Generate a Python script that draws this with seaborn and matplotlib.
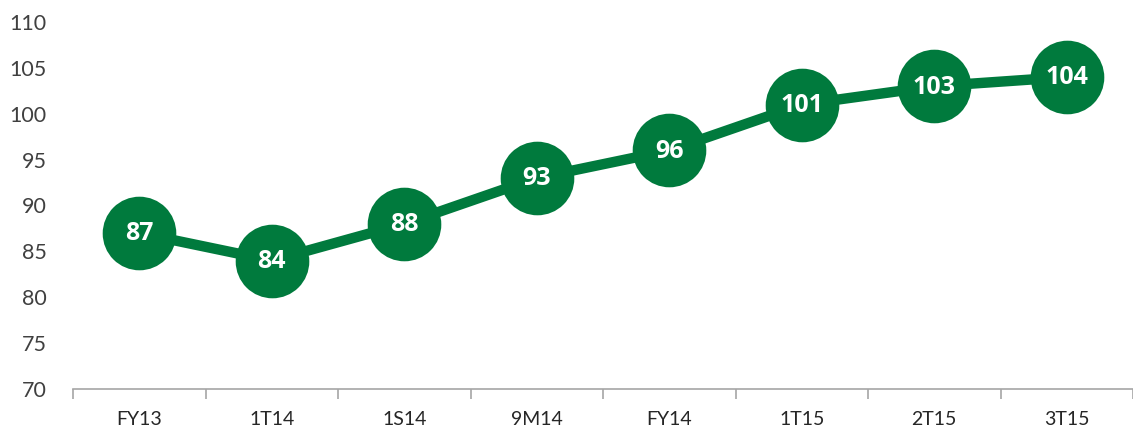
import matplotlib
matplotlib.use("Agg")
import matplotlib.pyplot as plt
import seaborn as sns
import pandas as pd
import numpy as np

categories = ["FY13", "1T14", "1S14", "9M14", "FY14", "1T15", "2T15", "3T15"]
values = [87, 84, 88, 93, 96, 101, 103, 104]
y_ticks = [70, 75, 80, 85, 90, 95, 100, 105, 110]

sns.set_style("white")
plt.rcParams['font.family'] = ['Lato', 'DejaVu Sans']

green = "#007A3D"
fig = plt.figure(figsize=(11.33, 4.33), dpi=100)
ax = fig.add_axes([73/1133, 44/433, 1060/1133, 367/433])

df = pd.DataFrame({"cat": categories, "val": values, "x": np.arange(len(categories))})
sns.lineplot(data=df, x="x", y="val", ax=ax, color=green, linewidth=7.5,
             marker="o", markersize=53, markeredgewidth=0, clip_on=False, zorder=3)

for xi, v in zip(df["x"], df["val"]):
    ax.text(xi, v - 0.1, str(v), color="white", fontsize=18, fontweight="bold",
            family=["Open Sans", "DejaVu Sans"],
            ha="center", va="center", zorder=5)

ax.set_xlim(-0.5, 7.446)
ax.set_ylim(70, 110)
ax.set_yticks(y_ticks)
ax.set_xticks(range(len(categories)))
ax.set_xticklabels(categories)
ax.set_xticks(np.arange(-0.5, len(categories), 1.0), minor=True)
ax.tick_params(axis="x", which="major", bottom=False, length=0, pad=16, labelsize=14, labelcolor="#262626")
ax.tick_params(axis="x", which="minor", bottom=True, length=7, width=1.2, color="#A6A6A6", direction="out")
ax.tick_params(axis="y", left=False, length=0, pad=19, labelsize=15.5, labelcolor="#404040")
for s in ["left", "top", "right"]:
    ax.spines[s].set_visible(False)
ax.spines["bottom"].set_color("#A6A6A6")
ax.spines["bottom"].set_linewidth(1.2)
ax.set_xlabel("")
ax.set_ylabel("")

fig.savefig("out.png", dpi=100)
